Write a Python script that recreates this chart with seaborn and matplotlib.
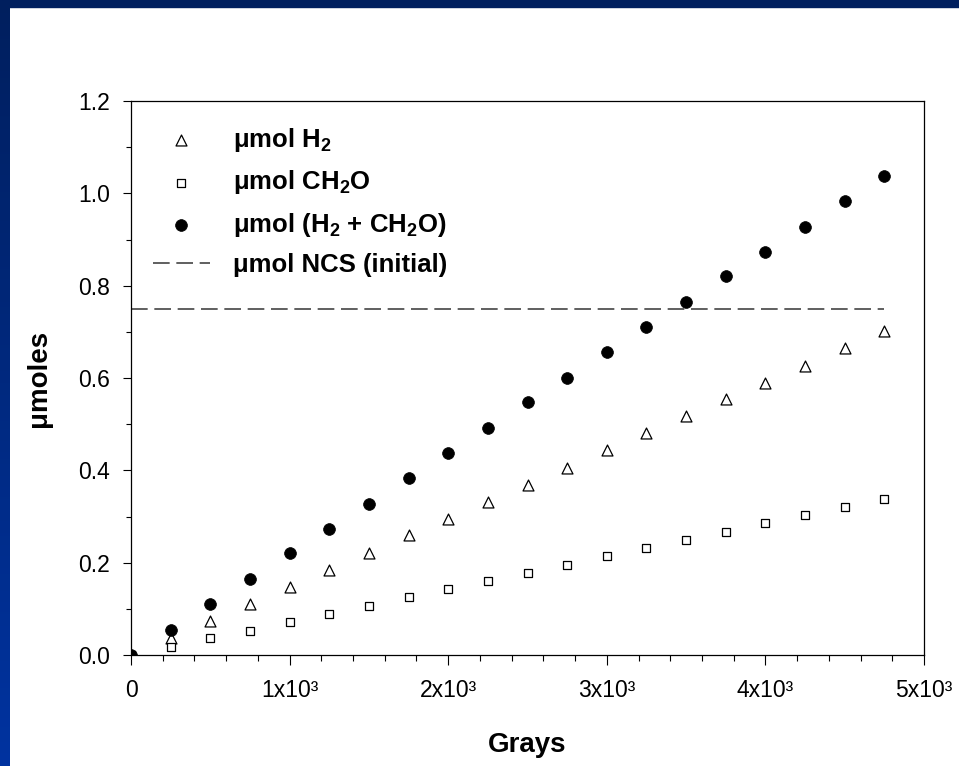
import numpy as np
import pandas as pd
import matplotlib
matplotlib.use("Agg")
import matplotlib.pyplot as plt
from matplotlib.ticker import MultipleLocator, FixedLocator
from matplotlib.colors import LinearSegmentedColormap
import seaborn as sns

grays = [0, 250, 500, 750, 1000, 1250, 1500, 1750, 2000, 2250,
         2500, 2750, 3000, 3250, 3500, 3750, 4000, 4250, 4500, 4750]
h2 = [0.0, 0.037, 0.074, 0.111, 0.148, 0.185, 0.222, 0.259, 0.295, 0.332,
      0.369, 0.406, 0.443, 0.480, 0.517, 0.554, 0.590, 0.627, 0.664, 0.701]
ch2o = [0.0, 0.018, 0.036, 0.053, 0.071, 0.089, 0.107, 0.125, 0.142, 0.160,
        0.178, 0.196, 0.214, 0.231, 0.249, 0.267, 0.285, 0.303, 0.320, 0.338]
total = [0.0, 0.055, 0.110, 0.165, 0.220, 0.274, 0.328, 0.383, 0.437, 0.492,
         0.547, 0.601, 0.656, 0.710, 0.765, 0.820, 0.874, 0.928, 0.983, 1.037]
ncs_initial = 0.75

x_ticks = [0, 1000, 2000, 3000, 4000, 5000]
x_ticklabels = ["0", "1x10³", "2x10³", "3x10³", "4x10³", "5x10³"]
y_ticks = [0.0, 0.2, 0.4, 0.6, 0.8, 1.0, 1.2]
y_ticklabels = ["0.0", "0.2", "0.4", "0.6", "0.8", "1.0", "1.2"]

labels = [r"μmol H$_\mathbf{2}$", r"μmol CH$_\mathbf{2}$O",
          r"μmol (H$_\mathbf{2}$ + CH$_\mathbf{2}$O)", "μmol NCS (initial)"]

df = pd.DataFrame({"grays": grays, "h2": h2, "ch2o": ch2o, "total": total})

sns.set_theme(style="white")
plt.rcParams["font.family"] = ["Liberation Sans", "DejaVu Sans"]
plt.rcParams["mathtext.fontset"] = "custom"
plt.rcParams["mathtext.rm"] = "Liberation Sans:bold"
plt.rcParams["mathtext.bf"] = "Liberation Sans:bold"
plt.rcParams["mathtext.it"] = "Liberation Sans:bold"
for key in ["text.color", "axes.labelcolor", "xtick.color", "ytick.color"]:
    plt.rcParams[key] = "black"

fig = plt.figure(figsize=(9.59, 7.66), dpi=100)
fig.patch.set_facecolor("white")

# blue frame on the top and left edge of the slide
cmap = LinearSegmentedColormap.from_list("frame", ["#001f5e", "#0033a0"])
fig.add_artist(plt.Rectangle((0, 1 - 7 / 766), 1, 7 / 766, transform=fig.transFigure,
                             color="#001f5e", zorder=-5))
left = fig.add_axes([0, 0, 10 / 959, 1], zorder=-5)
left.imshow(np.linspace(0, 1, 256).reshape(-1, 1), aspect="auto", cmap=cmap,
            extent=[0, 1, 0, 1])
left.set_axis_off()

ax = fig.add_axes([131 / 959, 111 / 766, 793 / 959, 554 / 766])
ax.set_facecolor("white")

sns.scatterplot(data=df, x="grays", y="h2", marker="^", s=62, facecolor="white",
                edgecolor="black", linewidth=0.9, label=labels[0], ax=ax, zorder=3)
sns.scatterplot(data=df, x="grays", y="ch2o", marker="s", s=40, facecolor="white",
                edgecolor="black", linewidth=0.9, label=labels[1], ax=ax, zorder=3)
sns.scatterplot(data=df, x="grays", y="total", marker="o", s=72, color="black",
                edgecolor="black", linewidth=0.5, label=labels[2], ax=ax, zorder=4)
sns.lineplot(x=[grays[0], grays[-1]], y=[ncs_initial, ncs_initial], color="#444444",
             linewidth=1.2, label=labels[3], ax=ax, zorder=2)
ax.lines[-1].set_dashes((10, 4))

ax.set_xlim(0, 5000)
ax.set_ylim(0, 1.2)
ax.xaxis.set_major_locator(FixedLocator(x_ticks))
ax.set_xticklabels(x_ticklabels)
ax.xaxis.set_minor_locator(MultipleLocator(200))
ax.yaxis.set_major_locator(FixedLocator(y_ticks))
ax.set_yticklabels(y_ticklabels)
ax.yaxis.set_minor_locator(MultipleLocator(0.1))

ax.tick_params(axis="x", which="major", direction="out", length=7.5, width=0.8,
               color="black", labelsize=16.5, pad=9.5, bottom=True)
ax.tick_params(axis="x", which="minor", direction="out", length=4, width=0.8,
               color="black", bottom=True)
ax.tick_params(axis="y", which="major", direction="out", length=6, width=0.8,
               color="black", labelsize=16.5, pad=9, left=True)
ax.tick_params(axis="y", which="minor", direction="out", length=3.6, width=0.8,
               color="black", left=True)

for sp in ax.spines.values():
    sp.set_color("black")
    sp.set_linewidth(0.9)
    sp.set_visible(True)

ax.set_xlabel("Grays", fontsize=20, fontweight="bold", labelpad=22)
ax.set_ylabel("μmoles", fontsize=20, fontweight="bold", labelpad=19)

ax.legend(loc="upper left", bbox_to_anchor=(0.028, 0.955), frameon=False,
          borderpad=0, borderaxespad=0, handlelength=2.2, handletextpad=0.9,
          labelspacing=0.56, prop={"weight": "bold", "size": 18.5})

plt.savefig("out.png", dpi=100)
plt.close()
